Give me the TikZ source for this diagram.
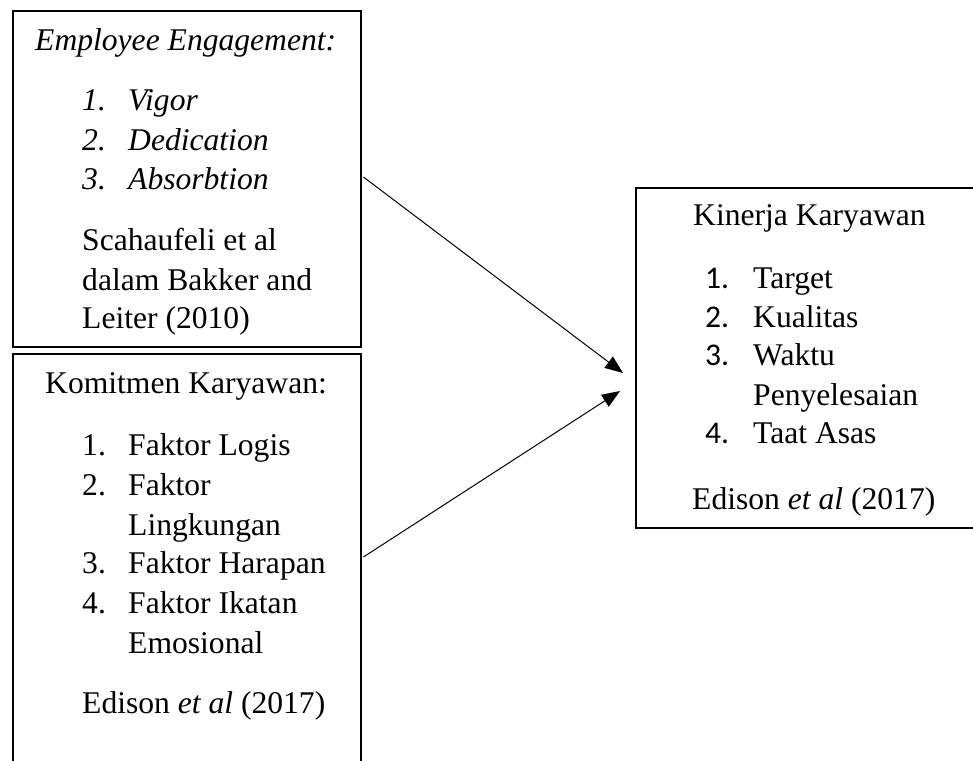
\documentclass[tikz,border=0pt]{standalone}
\usepackage{fontspec}
\setmainfont{Liberation Serif}
\newfontfamily\numfont{Carlito}
\usetikzlibrary{arrows.meta,calc}
\begin{document}
\begin{tikzpicture}[x=1pt,y=-1pt,
  box/.style={draw, line width=2.4pt, rectangle, anchor=north west, inner sep=0pt},
  txt/.style={anchor=base west, inner sep=0pt, font=\fontsize{31.6}{39.6}\selectfont},
  arr/.style={line width=1pt, -{Triangle[length=18pt,width=14pt]}}]
\useasboundingbox (0,0) rectangle (973,760);
\clip (0,0) rectangle (973,760);
\fill[white] (0,0) rectangle (973,760);
% boxes
\node[box, minimum width=348pt, minimum height=336pt] (ee) at (12,10) {};
\node[box, minimum width=348pt, minimum height=430pt] (km) at (12,353) {};
\node[box, minimum width=360pt, minimum height=340pt] (kk) at (635,187) {};
% box 1 text
\node[txt] (ee0) at (35,50) {\itshape Employee Engagement:};
\node[txt] (ee1n) at (82,110) {\itshape 1.};
\node[txt] (ee1) at (128,110) {\itshape Vigor};
\node[txt] (ee2n) at (82,150) {\itshape 2.};
\node[txt] (ee2) at (128,150) {\itshape Dedication};
\node[txt] (ee3n) at (82,189) {\itshape 3.};
\node[txt] (ee3) at (128,189) {\itshape Absorbtion};
\node[txt] (eer1) at (82,250) {Scahaufeli et al};
\node[txt] (eer2) at (82,290) {dalam Bakker and};
\node[txt] (eer3) at (82,328) {Leiter (2010)};
% box 2 text
\node[txt] (km0) at (45,393) {Komitmen Karyawan:};
\node[txt] (km1n) at (82,455) {1.};
\node[txt] (km1) at (128,455) {Faktor Logis};
\node[txt] (km2n) at (82,495) {2.};
\node[txt] (km2) at (128,495) {Faktor};
\node[txt] (km2b) at (128,535) {Lingkungan};
\node[txt] (km3n) at (82,573) {3.};
\node[txt] (km3) at (128,573) {Faktor Harapan};
\node[txt] (km4n) at (82,613) {4.};
\node[txt] (km4) at (128,613) {Faktor Ikatan};
\node[txt] (km4b) at (128,653) {Emosional};
\node[txt] (kmr) at (82,713) {Edison \textit{et al} (2017)};
% box 3 text
\node[txt] (kk0) at (693,225) {Kinerja Karyawan};
\node[txt] (kk1n) at (705,288) {\numfont 1.};
\node[txt] (kk1) at (753,288) {Target};
\node[txt] (kk2n) at (705,327) {\numfont 2.};
\node[txt] (kk2) at (753,327) {Kualitas};
\node[txt] (kk3n) at (705,365) {\numfont 3.};
\node[txt] (kk3) at (753,365) {Waktu};
\node[txt] (kk3b) at (753,405) {Penyelesaian};
\node[txt] (kk4n) at (705,443) {\numfont 4.};
\node[txt] (kk4) at (753,443) {Taat Asas};
\node[txt] (kkr) at (692,509) {Edison \textit{et al} (2017)};
% connectors
\coordinate (s1) at ($(ee.north east)+(1,167)$);
\coordinate (t1) at (623,373);
\coordinate (s2) at ($(km.north east)+(1,204)$);
\coordinate (t2) at (620,391);
\draw[arr] (s1) -- (t1);
\draw[arr] (s2) -- (t2);
\end{tikzpicture}
\end{document}
